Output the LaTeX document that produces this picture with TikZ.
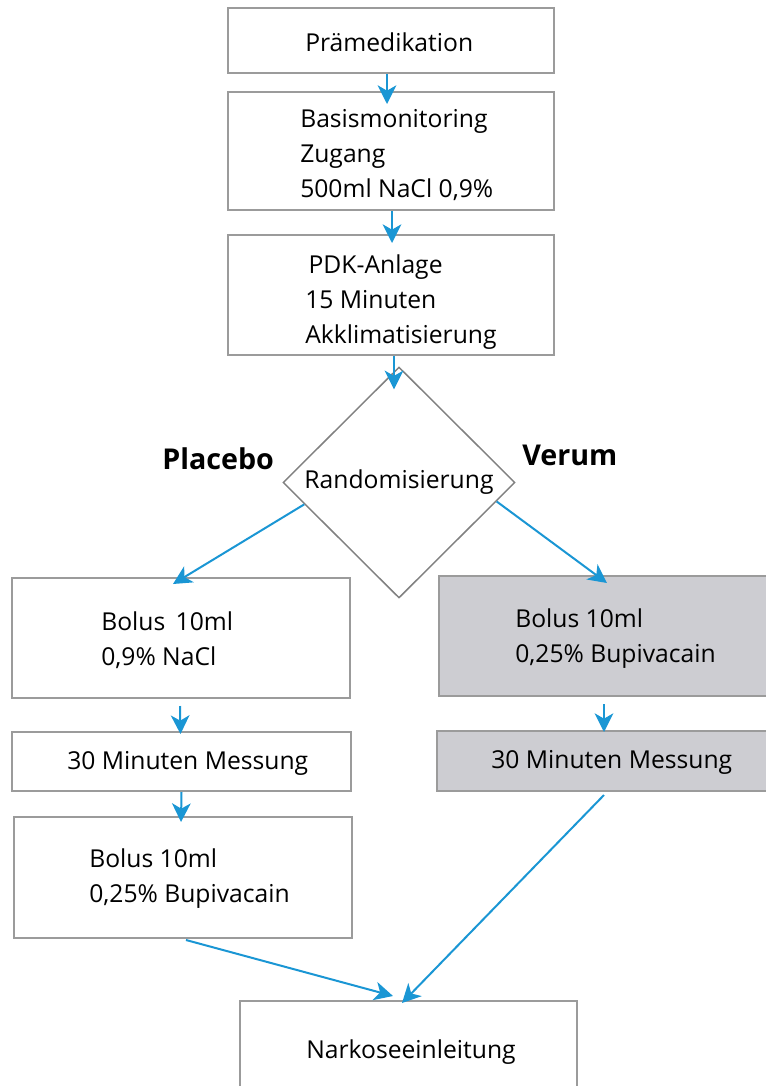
\documentclass[tikz,border=0pt]{standalone}
\usepackage{fontspec}
\setmainfont{Open Sans}
\usetikzlibrary{shapes.geometric,arrows.meta}

\definecolor{flowblue}{RGB}{26,150,212}
\definecolor{framegray}{RGB}{155,155,155}
\definecolor{diagray}{RGB}{128,128,128}
\definecolor{verumgray}{RGB}{205,205,210}

\tikzset{
  box/.style={draw=framegray, line width=1.5pt, inner sep=0pt},
  verumbox/.style={box, fill=verumgray},
  txt/.style={align=left, inner sep=0pt, anchor=base west,
    font=\fontsize{18.5}{26}\selectfont},
  armlabel/.style={inner sep=0pt, anchor=base west,
    font=\fontsize{21.5}{26}\selectfont\bfseries},
  flow/.style={draw=flowblue, line width=1.5pt,
    -{Stealth[length=14pt,width=14pt,inset=4pt]}},
}

\begin{document}
\begin{tikzpicture}[x=0.75pt,y=-0.75pt]
  \useasboundingbox (0,0) rectangle (766,1086);

  % Vorbereitung
  \node[box, minimum width=244.5pt, minimum height=48.75pt] (prem) at (391,40.5) {};
  \node[txt] (prem-t) at (305,51) {Prämedikation};

  \node[box, minimum width=244.5pt, minimum height=88.5pt] (base) at (391,151) {};
  \node[txt] (base-t) at (300,197) {Basismonitoring\\Zugang\\500ml NaCl 0,9\%};

  \node[box, minimum width=244.5pt, minimum height=90pt] (pdk) at (391,295) {};
  \node[txt] (pdk-t) at (305,343) {\hspace*{2.5pt}PDK-Anlage\\15 Minuten\\Akklimatisierung};

  % Randomisierung
  \node[diamond, draw=diagray, line width=1.1pt, inner sep=0pt, aspect=1,
    minimum width=174pt, minimum height=173.25pt,
    font=\fontsize{18.5}{26}\selectfont] (rand) at (399,482.5) {Randomisierung};
  \node[armlabel] (placebo) at (162,469) {Placebo};
  \node[armlabel] (verum) at (522,465) {Verum};

  % Placebo-Arm
  \node[box, minimum width=253.5pt, minimum height=90pt] (plac1) at (181,638) {};
  \node[txt, font=\fontsize{18.5}{26.25}\selectfont] (plac1-t) at (101,665) {Bolus\hspace{3pt} 10ml\\0,9\% NaCl};
  \node[box, minimum width=254.25pt, minimum height=44.25pt] (plac2) at (181.5,761.5) {};
  \node[txt] (plac2-t) at (67,769) {30 Minuten Messung};
  \node[box, minimum width=253.5pt, minimum height=90.75pt] (plac3) at (183,877.5) {};
  \node[txt] (plac3-t) at (89,902) {Bolus 10ml\\0,25\% Bupivacain};

  % Verum-Arm
  \node[verumbox, minimum width=255.75pt, minimum height=90pt] (ver1) at (609.5,636) {};
  \node[txt] (ver1-t) at (515,662) {Bolus 10ml\\0,25\% Bupivacain};
  \node[verumbox, minimum width=257.25pt, minimum height=45pt] (ver2) at (608.5,761) {};
  \node[txt] (ver2-t) at (491,768) {30 Minuten Messung};

  % Narkose
  \node[box, minimum width=252.75pt, minimum height=73.5pt] (nark) at (408.5,1050) {};
  \node[txt] (nark-t) at (306,1058) {Narkoseeinleitung};

  % Pfeile
  \draw[flow] ([shift={(-4,0)}]prem.south) -- ([shift={(-4,13)}]base.north);
  \draw[flow] ([shift={(1,0)}]base.south) -- ([shift={(1,9)}]pdk.north);
  \draw[flow] ([shift={(3,0)}]pdk.south) -- ([shift={(-5,23)}]rand.north);
  \draw[flow] (rand.193) -- ([shift={(-8,7)}]plac1.north);
  \draw[flow] (rand.349) -- ([shift={(-2.5,8)}]ver1.north);
  \draw[flow] ([shift={(-1,7)}]plac1.south) -- ([shift={(-1,3)}]plac2.north);
  \draw[flow] (plac2.south) -- ([shift={(-2,6)}]plac3.north);
  \draw[flow] ([shift={(-5.5,7)}]ver1.south) -- ([shift={(-4.5,2)}]ver2.north);
  \draw[flow] ([shift={(3,1)}]plac3.south) -- ([shift={(-15.5,-4)}]nark.north);
  \draw[flow] ([shift={(-4.5,3)}]ver2.south) -- ([shift={(-6.5,3)}]nark.north);
\end{tikzpicture}
\end{document}
